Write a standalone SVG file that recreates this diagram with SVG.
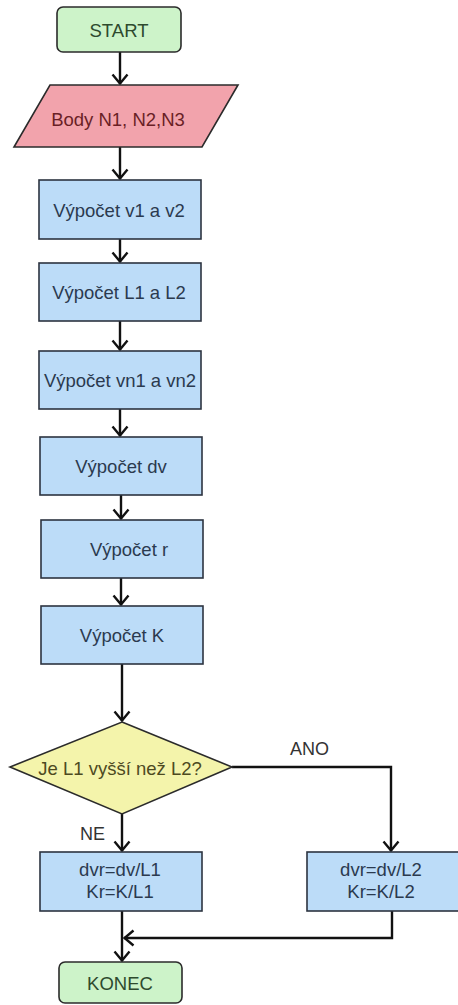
<svg xmlns="http://www.w3.org/2000/svg" width="458" height="1005" viewBox="0 0 458 1005">
  <defs>
    <style>
      .lbl { font-family: "Liberation Sans", Arial, sans-serif; font-size: 18.5px; text-anchor: middle; dominant-baseline: central; }
      .term { fill: #cdf3c9; stroke: #2b2b2b; stroke-width: 1.6; }
      .term-t { fill: #2e4a2e; }
      .io { fill: #f2a3ac; stroke: #2b2b2b; stroke-width: 1.6; }
      .io-t { fill: #6a1f26; }
      .proc { fill: #bcdcf8; stroke: #2c3440; stroke-width: 1.6; }
      .proc-t { fill: #2b3a4f; }
      .dec { fill: #f4f4ab; stroke: #2b2b2b; stroke-width: 1.6; }
      .dec-t { fill: #4d4a1f; }
      .edge { fill: none; stroke: #111; stroke-width: 2.4; marker-end: url(#arrow); }
      .elbl { font-family: "Liberation Sans", Arial, sans-serif; font-size: 18px; fill: #333; }
    </style>
    <marker id="arrow" viewBox="0 0 12 18" refX="11" refY="9" markerWidth="12" markerHeight="18" markerUnits="userSpaceOnUse" orient="auto">
      <path d="M1.5,1.5 L10.5,9 L1.5,16.5" fill="none" stroke="#111" stroke-width="2.4"/>
    </marker>
  </defs>
  <rect width="458" height="1005" fill="#ffffff"/>

  <!-- connectors -->
  <g id="connectors">
    <line class="edge" x1="120" y1="52" x2="120" y2="84"/>
    <line class="edge" x1="120" y1="147" x2="120" y2="179"/>
    <line class="edge" x1="120" y1="239" x2="120" y2="262"/>
    <line class="edge" x1="120" y1="321" x2="120" y2="350"/>
    <line class="edge" x1="120" y1="409" x2="120" y2="436"/>
    <line class="edge" x1="121" y1="495" x2="121" y2="519"/>
    <line class="edge" x1="121" y1="578" x2="121" y2="605"/>
    <line class="edge" x1="122" y1="664" x2="122" y2="721"/>
    <line class="edge" x1="122" y1="814" x2="122" y2="851"/>
    <polyline class="edge" points="232,767 391,767 391,851"/>
    <line class="edge" x1="122" y1="911" x2="122" y2="961"/>
    <polyline class="edge" points="392,911 392,938 124,938"/>
    <text class="elbl" x="290" y="755">ANO</text>
    <text class="elbl" x="80" y="840">NE</text>
  </g>

  <g id="start">
    <rect class="term" x="57" y="7" width="124" height="45" rx="6"/>
    <text class="lbl term-t" x="119" y="30">START</text>
  </g>

  <g id="input">
    <polygon class="io" points="50,85 238,85 202,147 14,147"/>
    <text class="lbl io-t" x="118" y="119">Body N1, N2,N3</text>
  </g>

  <g id="calc-v">
    <rect class="proc" x="39" y="180" width="162" height="59"/>
    <text class="lbl proc-t" x="119" y="210">Výpočet v1 a v2</text>
  </g>

  <g id="calc-l">
    <rect class="proc" x="39" y="263" width="162" height="58"/>
    <text class="lbl proc-t" x="119" y="292">Výpočet L1 a L2</text>
  </g>

  <g id="calc-vn">
    <rect class="proc" x="39" y="351" width="162" height="58"/>
    <text class="lbl proc-t" x="120" y="380">Výpočet vn1 a vn2</text>
  </g>

  <g id="calc-dv">
    <rect class="proc" x="40" y="437" width="162" height="58"/>
    <text class="lbl proc-t" x="121" y="466">Výpočet dv</text>
  </g>

  <g id="calc-r">
    <rect class="proc" x="41" y="520" width="162" height="58"/>
    <text class="lbl proc-t" x="129" y="549">Výpočet r</text>
  </g>

  <g id="calc-k">
    <rect class="proc" x="41" y="606" width="162" height="58"/>
    <text class="lbl proc-t" x="122" y="635">Výpočet K</text>
  </g>

  <g id="decision">
    <polygon class="dec" points="122,722 232,767 122,814 10,767"/>
    <text class="lbl dec-t" x="120" y="768">Je L1 vyšší než L2?</text>
  </g>

  <g id="ratio-l1">
    <rect class="proc" x="40" y="852" width="162" height="59"/>
    <text class="lbl proc-t" x="120" y="869">dvr=dv/L1</text>
    <text class="lbl proc-t" x="120" y="891">Kr=K/L1</text>
  </g>

  <g id="ratio-l2">
    <rect class="proc" x="307" y="852" width="162" height="59"/>
    <text class="lbl proc-t" x="381" y="869">dvr=dv/L2</text>
    <text class="lbl proc-t" x="381" y="891">Kr=K/L2</text>
  </g>

  <g id="end">
    <rect class="term" x="59" y="962" width="123" height="41" rx="6"/>
    <text class="lbl term-t" x="120" y="983">KONEC</text>
  </g>
</svg>
